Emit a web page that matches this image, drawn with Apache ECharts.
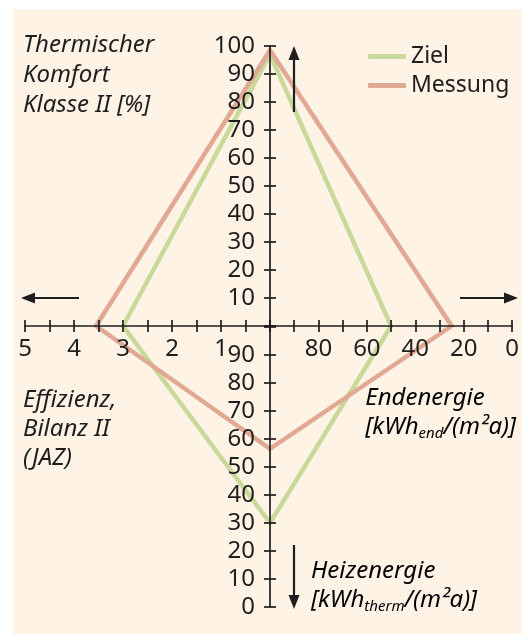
<!DOCTYPE html>
<html><head><meta charset="utf-8">
<script src="https://cdn.jsdelivr.net/npm/echarts@6/dist/echarts.min.js"></script>
<style>html,body{margin:0;padding:0;background:#fff}#c{width:522px;height:634px}</style>
</head><body><div id="c"></div>
<script>
// ---- data ----
const seriesNames = ['Ziel', 'Messung'];
// vertex values in order: [Thermischer Komfort (top), Endenergie (right), Heizenergie (bottom), Effizienz JAZ (left)]
const zielValues = [97, 50, 30, 3.0];
const messungValues = [98.5, 25, 56.5, 3.55];
const comfortRange = [0, 100];
const endRange = [0, 100];
const heatRange = [0, 100];
const jazRange = [0, 5];
const comfortTickStep = 10;
const endTickStep = 10;
const heatTickStep = 10;
const jazTickStep = 0.5;
const endLabelStep = 20;
const seriesColors = ['#c8d99a', '#e1a993'];

// ---- style ----
const FONT = 'Noto Sans';
const INK = '#1e1e1e';
const AXW = 1.7;
const chart = echarts.init(document.getElementById('c'), null, {renderer: 'canvas'});

function valAxis(o) {
  const base = {
    type: 'value', z: 10,
    splitLine: {show: false},
    axisLine: {show: true, onZero: false, lineStyle: {color: INK, width: AXW}},
    axisTick: {show: true, length: 6, inside: false, lineStyle: {color: INK, width: AXW}},
    axisLabel: {show: true, color: INK, fontSize: 24, fontFamily: FONT, margin: 11},
  };
  return Object.assign(base, o);
}
function dupInside(ax) {
  const d = JSON.parse(JSON.stringify(ax));
  d.axisLine = {show: false, onZero: false};
  d.axisLabel = {show: false};
  d.axisTick = {show: true, length: 6, inside: true, lineStyle: {color: INK, width: AXW}};
  return d;
}

const xEnd = valAxis({gridIndex: 0, min: endRange[0], max: endRange[1], interval: endTickStep, inverse: true, position: 'bottom'});
xEnd.axisLabel.formatter = v => (v % endLabelStep === 0 && v !== endRange[1]) ? String(v) : '';
const xJaz = valAxis({gridIndex: 1, min: jazRange[0], max: jazRange[1], interval: jazTickStep, inverse: true, position: 'bottom'});
xJaz.axisLabel.formatter = v => (Number.isInteger(v) && v !== jazRange[0]) ? String(v) : '';
const xDummy = {type: 'value', gridIndex: 2, show: false, min: 0, max: 1};

const yComfort = valAxis({gridIndex: 0, min: comfortRange[0], max: comfortRange[1], interval: comfortTickStep, position: 'left'});
yComfort.axisLabel.formatter = v => v === comfortRange[0] ? '' : String(v);
yComfort.axisLabel.margin = 15;
const yDummy = {type: 'value', gridIndex: 1, show: false, min: 0, max: 1};
const yHeat = valAxis({gridIndex: 2, min: heatRange[0], max: heatRange[1], interval: heatTickStep, position: 'left'});
yHeat.axisLabel.formatter = v => v === heatRange[1] ? '' : String(v);
yHeat.axisLabel.margin = 15;

const xAxes = [xEnd, xJaz, xDummy, dupInside(xEnd), dupInside(xJaz)];
const yAxes = [yComfort, yDummy, yHeat, dupInside(yComfort), dupInside(yHeat)];

function makeSeries(name, vals, color, z) {
  return {
    type: 'custom', name: name, coordinateSystem: 'none', data: [[0]], z: z, silent: true,
    itemStyle: {color: color},
    renderItem: function (params, api) {
      const cx = chart.convertToPixel({xAxisIndex: 1}, jazRange[0]);
      const cy = chart.convertToPixel({yAxisIndex: 0}, comfortRange[0]);
      const pts = [
        [cx, chart.convertToPixel({yAxisIndex: 0}, vals[0])],
        [chart.convertToPixel({xAxisIndex: 0}, vals[1]), cy],
        [cx, chart.convertToPixel({yAxisIndex: 2}, vals[2])],
        [chart.convertToPixel({xAxisIndex: 1}, vals[3]), cy]
      ];
      return {type: 'polygon', shape: {points: pts},
        style: {fill: 'none', stroke: color, lineWidth: 4.5, lineJoin: 'miter'}};
    }
  };
}

const titleStyle = {fontFamily: FONT, fontStyle: 'italic', fontSize: 24, fill: INK};
const rich = {
  m: {fontFamily: FONT, fontStyle: 'italic', fontSize: 24, color: INK, lineHeight: 29},
  s: {fontFamily: FONT, fontStyle: 'italic', fontSize: 15, color: INK, lineHeight: 12, verticalAlign: 'bottom'}
};

function arrow(x1, y1, x2, y2) {
  const dx = x2 - x1, dy = y2 - y1, L = Math.hypot(dx, dy);
  const ux = dx / L, uy = dy / L, hl = 14, hw = 5.5;
  const bx = x2 - ux * hl, by = y2 - uy * hl;
  return [
    {type: 'line', shape: {x1: x1, y1: y1, x2: bx + ux * 2, y2: by + uy * 2}, style: {stroke: INK, lineWidth: 2.2}, z: 10},
    {type: 'polygon', shape: {points: [[x2, y2], [bx - uy * hw, by + ux * hw], [bx + uy * hw, by - ux * hw]]}, style: {fill: INK}, z: 10}
  ];
}

const option = {
  backgroundColor: '#ffffff',
  animation: false,
  grid: [
    {left: 270, top: 46, width: 244, height: 280},
    {left: 25, top: 46, width: 245, height: 280},
    {left: 270, top: 327, width: 244, height: 280}
  ],
  xAxis: xAxes,
  yAxis: yAxes,
  legend: {
    orient: 'vertical', left: 363, top: 40, itemWidth: 38, itemHeight: 5, itemGap: 6,
    icon: 'roundRect', selectedMode: false,
    textStyle: {fontFamily: FONT, fontSize: 23, color: INK},
    data: seriesNames.map((n, i) => ({name: n, itemStyle: {color: seriesColors[i]}}))
  },
  graphic: [
    {type: 'rect', shape: {x: 13, y: 9, width: 509, height: 625}, style: {fill: '#fef3e5'}, z: -100, silent: true},
    {type: 'text', left: 23, top: 30, style: Object.assign({text: 'Thermischer\nKomfort\nKlasse II [%]', lineHeight: 30}, titleStyle)},
    {type: 'text', left: 23, top: 386, style: Object.assign({text: 'Effizienz,\nBilanz II\n(JAZ)', lineHeight: 29}, titleStyle)},
    {type: 'text', right: 6, top: 386, style: {text: '{m|Endenergie}\n{m|[kWh}{s|end}{m|/(m²a)]}', rich: rich, align: 'right'}},
    {type: 'text', left: 311, top: 559, style: {text: '{m|Heizenergie}\n{m|[kWh}{s|therm}{m|/(m²a)]}', rich: rich}},
  ].concat(arrow(294, 112, 294, 46), arrow(79, 298, 21, 298), arrow(460, 298, 518, 298), arrow(294, 545, 294, 609)),
  series: [
    makeSeries(seriesNames[0], zielValues, seriesColors[0], 2),
    makeSeries(seriesNames[1], messungValues, seriesColors[1], 3)
  ]
};
chart.setOption(option);
</script></body></html>
